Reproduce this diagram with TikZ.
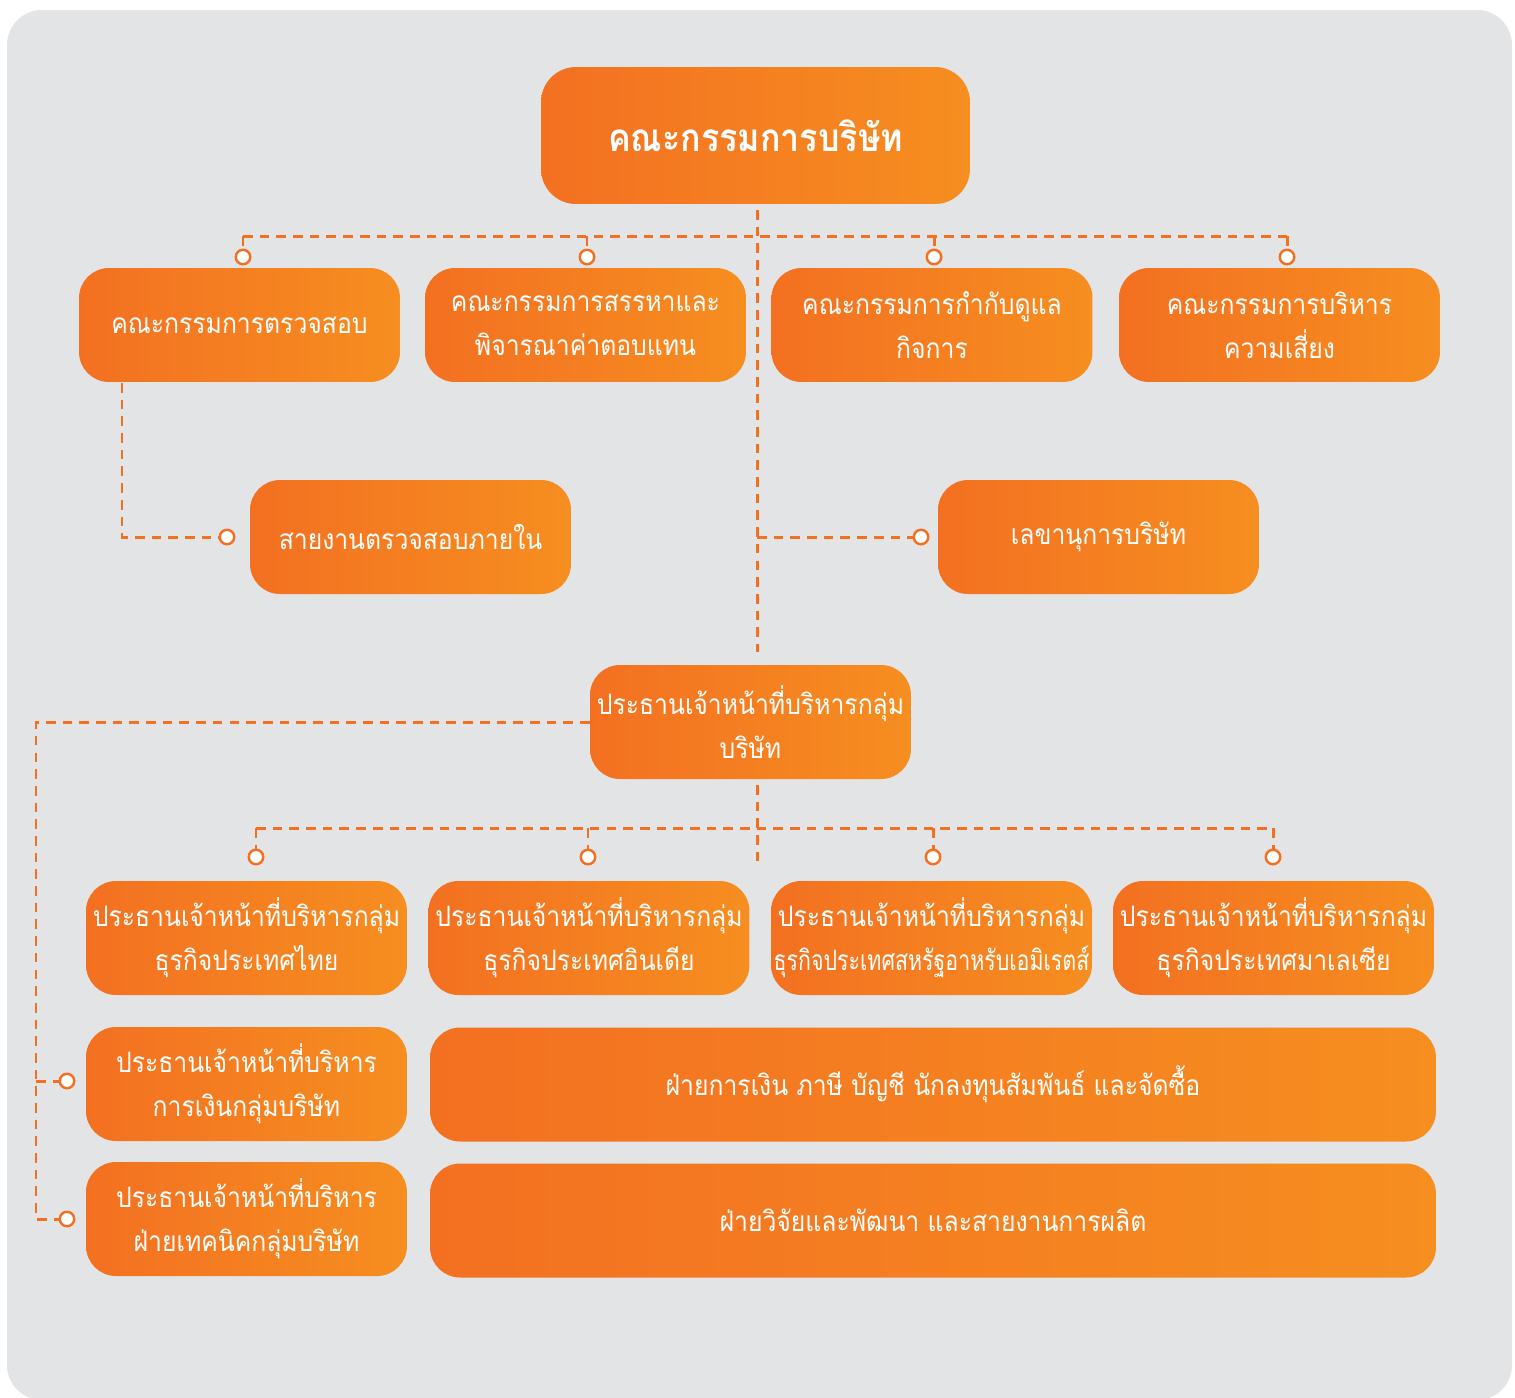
\documentclass[tikz,border=0pt]{standalone}
\usepackage{fontspec}
\newfontfamily\thaifont[Script=Thai,FakeStretch=0.88]{Loma}
\newfontfamily\thainarrow[Script=Thai,FakeStretch=0.76]{Loma}
\definecolor{bggray}{RGB}{227,228,230}
\definecolor{orleft}{RGB}{243,112,33}
\definecolor{orright}{RGB}{246,142,32}
\definecolor{orline}{RGB}{243,112,33}
\tikzset{
  box/.style={rounded corners=0.6cm, left color=orleft, right color=orright, draw=none,
    text=white, align=center, inner sep=0pt, minimum width=6.42cm, minimum height=2.28cm,
    font=\thaifont\fontsize{16}{25}\selectfont},
  widebox/.style={box, minimum width=20.12cm},
  dot/.style={circle, draw=orline, line width=1.4pt, fill=white, inner sep=0pt, minimum size=0.29cm},
  link/.style={draw=orline, line width=1.7pt, dash pattern=on 5.5pt off 4pt}
}
\begin{document}
\begin{tikzpicture}[x=0.02cm,y=-0.02cm]
		\useasboundingbox (0,0) rectangle (1515,1397);
		\fill[bggray, rounded corners=0.7cm] (7,10) rectangle (1512,1400); %background
		
		% boxes, top to bottom
		\node[box, minimum width=8.58cm, minimum height=2.74cm, rounded corners=0.7cm,
		  font=\thaifont\bfseries\fontsize{22}{25}\selectfont] (board) at (755.5,135.5) {คณะกรรมการบริษัท};
		
		\node[box] (audit)  at (239.5,325) {คณะกรรมการตรวจสอบ};
		\node[box] (nomin)  at (585.5,325) {คณะกรรมการสรรหาและ\\พิจารณาค่าตอบแทน};
		\node[box] (govern) at (932,325)   {คณะกรรมการกำกับดูแล\\กิจการ};
		\node[box] (risk)   at (1279.5,325) {คณะกรรมการบริหาร\\ความเสี่ยง};
		
		\node[box] (internal)  at (410.5,537)  {สายงานตรวจสอบภายใน};
		\node[box] (secretary) at (1098.5,537) {เลขานุการบริษัท};
		
		\node[box] (ceo) at (750.5,722) {ประธานเจ้าหน้าที่บริหารกลุ่ม\\บริษัท};
		
		\node[box] (thai)   at (246.5,938)  {ประธานเจ้าหน้าที่บริหารกลุ่ม\\ธุรกิจประเทศไทย};
		\node[box] (india)  at (589,938)    {ประธานเจ้าหน้าที่บริหารกลุ่ม\\ธุรกิจประเทศอินเดีย};
		\node[box] (uae)    at (931.5,938)  {ประธานเจ้าหน้าที่บริหารกลุ่ม\\{\thainarrow ธุรกิจประเทศสหรัฐอาหรับเอมิเรตส์}};
		\node[box] (malay)  at (1273.5,938) {ประธานเจ้าหน้าที่บริหารกลุ่ม\\ธุรกิจประเทศมาเลเซีย};
		
		\node[box] (cfo)     at (246.5,1084) {ประธานเจ้าหน้าที่บริหาร\\การเงินกลุ่มบริษัท};
		\node[widebox] (finance) at (933,1084.5) {ฝ่ายการเงิน ภาษี บัญชี นักลงทุนสัมพันธ์ และจัดซื้อ};
		\node[box] (cto)     at (246.5,1219) {ประธานเจ้าหน้าที่บริหาร\\ฝ่ายเทคนิคกลุ่มบริษัท};
		\node[widebox] (rnd)     at (933,1220.5) {ฝ่ายวิจัยและพัฒนา และสายงานการผลิต};
		
		% end points of the links
		\node[dot] (dAudit)  at (243,257)  {};
		\node[dot] (dNomin)  at (587,257)  {};
		\node[dot] (dGovern) at (934,257)  {};
		\node[dot] (dRisk)   at (1287,257) {};
		\node[dot] (dInternal)  at (227,537) {};
		\node[dot] (dSecretary) at (921,537) {};
		\node[dot] (dThai)   at (256,857)  {};
		\node[dot] (dIndia)  at (588,857)  {};
		\node[dot] (dUae)    at (933,857)  {};
		\node[dot] (dMalay)  at (1273,857) {};
		\node[dot] (dCfo)    at (67,1081)  {};
		\node[dot] (dCto)    at (67,1219)  {};
		
		\coordinate (trunkTop) at (757,210);
		\coordinate (trunkMid) at (757,652);
		\coordinate (trunkLow) at (757,785);
		\coordinate (trunkEnd) at (757,866);
		\coordinate (busTop) at (0,236);
		\coordinate (busLow) at (0,828);
		\coordinate (auditFoot) at (122,383);
		\coordinate (ceoLeft) at (36,1219);
		
		% links
		\draw[link] (trunkTop) -- (trunkMid); %board to ceo
		\draw[link] (dAudit |- busTop) -- (dRisk |- busTop); %committee bus
		\foreach \d in {dAudit,dNomin,dGovern,dRisk} { \draw[link] (\d |- busTop) -- (\d); }
		\draw[link] (auditFoot) |- (dInternal); %audit to internal audit
		\draw[link] (trunkTop |- dSecretary) -- (dSecretary); %secretary
		
		\draw[link] (trunkLow) -- (trunkEnd); %ceo down
		\draw[link] (dThai |- busLow) -- (dMalay |- busLow); %business bus
		\foreach \d in {dThai,dIndia,dUae,dMalay} { \draw[link] (\d |- busLow) -- (\d); }
		
		\draw[link] (ceo.west) -| (ceoLeft) -- (dCto); %ceo to cto
		\draw[link] (ceoLeft |- dCfo) -- (dCfo); %cfo
\end{tikzpicture}
\end{document}
